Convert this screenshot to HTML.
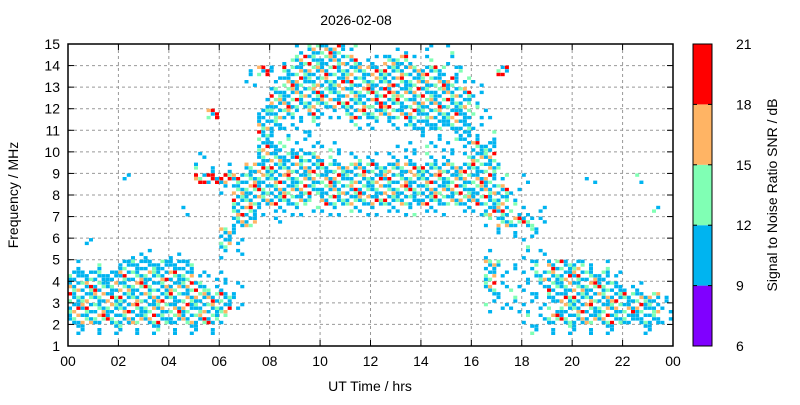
<!DOCTYPE html>
<html><head><meta charset="utf-8"><style>
body{margin:0;background:#fff}
svg text{font-family:"Liberation Sans",sans-serif;font-size:14px;fill:#000}
</style></head><body>
<svg id="c" width="800" height="400" xmlns="http://www.w3.org/2000/svg"></svg>
<script>
// data: occupancy grid, rows = 0.5 MHz bands (15 MHz down to 1 MHz), cols = 0.5 h bins
// '.' none, 'b' sparse blue, 'B' dense blue, 'M' mixed SNR, 'R' red-heavy
const gridRows = [
".... .... .... .... ..bM MMb. ..b. b.b. .... .... .... ....",
".... .... .... .... .bMM MMMb bMMb b.b. .... .... .... ....",
".... .... .... ..bR bMMM MMMM MMMM MMbb ..R. .... .... ....",
".... .... .... ..b. bMMM MMMM MMMM MMMb b... .... .... ....",
".... .... .... .... MMMM MMMM MRMM MMMM b... .... .... ....",
".... .... .... ...b MMMM MMMM RMMM MMMM b... .... .... ....",
".... .... ...R ...B MMbM bbMM MMMM MMMB bb.. .... .... ....",
".... .... .... ...M Bbbb ..bb bbbB BBMB b... .... .... ....",
".... .... .... ...M bbbb .... .... bbbB bb.. .... .... ....",
".... .... .... ...M Bbbb bb.. ..bb bbbb MB.. .... .... ....",
".... .... ..b. ...M MBMM bbbb bbbb bbbb MM.. .... .... ....",
".... .... ..bb b.MM MMMM MMMM MMMM MMMM MMb. .... .... ....",
".... b... ..RR RMMM MMMM MMMM MMMM MMMM MMb. b... .b.. .b..",
".... .... .... bMMM MMMM MMMM MMMM MMMM MMMb .... .... ....",
".... .... .... .MMM MMMb MMMM MMMB MMMM MMMb .... .... ....",
".... .... .b.. .MMb bbbb bbbb bbbb bb.b bMMb bb.. .... ..b.",
".... .... .... .MM. b... .... .... .... .bMM Mb.. .... ....",
".... .... .... Mb.. .... .... .... .... ..bb bb.. .... ....",
".b.. .... .... Mb.. .... .... .... .... .... b... .... ....",
".... .bb. b... bb.. .... .... .... .... .b.. bb.. .... ....",
"b.b. BBBB BB.. .... .... .... .... .... .Mbb bbMM Mbb. ....",
"BBBB MMMM MMbb b... .... .... .... .... .Mb. bMMM MMBb ....",
"MMMM MMMM MMMb bb.. .... .... .... .... .Mbb bbMM MMMB bb..",
"MMMM MMMM MMMM Mb.. .... .... .... .... .bbb bbBM MMMM MMMb",
"MMMM MMMM MMMM Mb.. .... .... .... .... .bbb bbbM MMMM MMMb",
"MMMM MMMM MMMM b... .... .... .... .... .... bbMM MMMM BBBb",
"bbbb bbbb bbbb .... .... .... .... .... .... bbbb bbbb .bb.",
".... .... .... .... .... .... .... .... .... .... .... ...."
];
const xTicks = ["00","02","04","06","08","10","12","14","16","18","20","22","00"];
const yTicks = [1,2,3,4,5,6,7,8,9,10,11,12,13,14,15];
const cbTicks = [6,9,12,15,18,21];
const cbColors = ["#8000ff","#00b4f0","#80ffb4","#ffb464","#ff0000"];

const svg=document.getElementById('c'), NS="http://www.w3.org/2000/svg";
const L=68,R=673,T=44,B=346;
const X=h=>L+(R-L)*h/24, Y=f=>B-(B-T)*(f-1)/14;
function mk(t,a,p){const e=document.createElementNS(NS,t);for(const k in a)e.setAttribute(k,a[k]);(p||svg).appendChild(e);return e;}
const g=mk('g',{});


for(let i=1;i<12;i++)mk('line',{x1:X(i*2),x2:X(i*2),y1:T,y2:B,stroke:'#999','stroke-dasharray':'3,3'},g);
for(let f=2;f<15;f++)mk('line',{x1:L,x2:R,y1:Y(f),y2:Y(f),stroke:'#999','stroke-dasharray':'3,3'},g);
const pg=mk('g',{});


const BL="#00b4f0",GR="#80ffb4",OR="#ffb464",RD="#ff0000";
const palM=[BL,GR,BL,OR,BL,RD,GR,BL,BL,GR,BL,OR];
const palR=[RD,BL,RD,OR,GR,RD,BL,RD];
const palB=[BL,BL,BL,GR,BL,BL,BL,BL];
gridRows.forEach((row,r)=>{
  const s=row.replace(/ /g,'');
  const fTop=15-0.5*r;
  for(let c=0;c<s.length;c++){
    const ch=s[c]; if(ch==='.')continue;
    const x0=X(c*0.5), y0=Y(fTop), cw=X(0.5)-X(0), ch2=Y(fTop-0.5)-y0;
    let pts;
    if(ch==='b') pts=[[(r+c)%3,(c)%3],[(r*2+c+1)%3,(c+2)%3]];
    else {pts=[];for(let i=0;i<3;i++)for(let j=0;j<3;j++){if((i*2+j+r+c)%3!==0)pts.push([i,j]);}}
    pts.forEach((p,k)=>{
      const pal=ch==='M'?palM:ch==='R'?palR:palB;
      const col=pal[(r*7+c*3+k)%pal.length];
      const rc=mk('rect',{x:(x0+p[0]*cw/3).toFixed(1),y:(y0+p[1]*ch2/3).toFixed(1),width:4,height:3.4,fill:col},pg);
      
      
    });
  }
});
const fr=mk('rect',{x:L,y:T,width:R-L,height:B-T,fill:'none',stroke:'#000','stroke-width':1.5});


xTicks.forEach((t,i)=>{
  const x=X(i*2);
  mk('line',{x1:x,x2:x,y1:B,y2:B-6,stroke:'#000'});mk('line',{x1:x,x2:x,y1:T,y2:T+6,stroke:'#000'});
  const e=mk('text',{x:x,y:B+20,'text-anchor':'middle'});e.textContent=t;
  
  
});
yTicks.forEach(f=>{
  const y=Y(f);
  mk('line',{x1:L,x2:L+6,y1:y,y2:y,stroke:'#000'});mk('line',{x1:R,x2:R-6,y1:y,y2:y,stroke:'#000'});
  const e=mk('text',{x:L-8,y:y+5,'text-anchor':'end'});e.textContent=f;
  
  
});
let e=mk('text',{x:356,y:25,'text-anchor':'middle'});e.textContent="2026-02-08";


e=mk('text',{x:370,y:391,'text-anchor':'middle'});e.textContent="UT Time / hrs";


e=mk('text',{x:0,y:0,'text-anchor':'middle',transform:'translate(18,195) rotate(-90)'});e.textContent="Frequency / MHz";


const CL=693,CR=712,CY=v=>B-(B-T)*(v-6)/15;
cbColors.forEach((col,i)=>{
  const r=mk('rect',{x:CL,y:CY(cbTicks[i+1]),width:CR-CL,height:CY(cbTicks[i])-CY(cbTicks[i+1]),fill:col});
  
  
});
mk('rect',{x:CL,y:T,width:CR-CL,height:B-T,fill:'none',stroke:'#000'});
cbTicks.forEach(v=>{
  const y=CY(v);
  mk('line',{x1:CR,x2:CR-4,y1:y,y2:y,stroke:'#000'});mk('line',{x1:CL,x2:CL+4,y1:y,y2:y,stroke:'#000'});
  const t=mk('text',{x:736,y:y+5,'text-anchor':'start'});t.textContent=v;
  
  
});
e=mk('text',{x:0,y:0,'text-anchor':'middle',transform:'translate(777,195) rotate(-90)'});e.textContent="Signal to Noise Ratio SNR / dB";


</script>
</body></html>
